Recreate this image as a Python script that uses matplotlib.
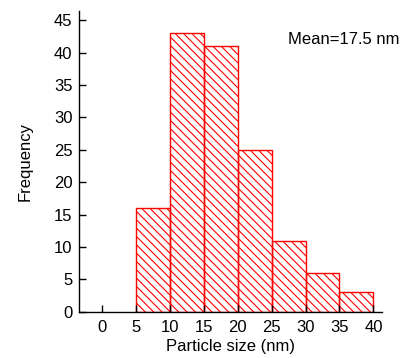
import matplotlib
matplotlib.use('Agg')
import matplotlib.pyplot as plt
import numpy as np

# histogram data
bin_edges = [5, 10, 15, 20, 25, 30, 35, 40]
counts = [16, 43, 41, 25, 11, 6, 3]
x_ticks = [0, 5, 10, 15, 20, 25, 30, 35, 40]
y_ticks = [0, 5, 10, 15, 20, 25, 30, 35, 40, 45]
mean_label = 'Mean=17.5 nm'

plt.rcParams['font.family'] = ['Liberation Sans', 'DejaVu Sans']
plt.rcParams['hatch.linewidth'] = 0.8

fig = plt.figure(figsize=(4.09, 3.58), dpi=100)
ax = fig.add_axes([0.194, 0.129, 0.739, 0.840])

left = np.array(bin_edges[:-1])
widths = np.diff(bin_edges)
ax.bar(left, counts, width=widths, align='edge', color='none',
       edgecolor='red', linewidth=1.0, hatch='\\\\\\\\')

ax.set_xlim(-3.3, 41.2)
ax.set_ylim(0, 46.4)
ax.set_xticks(x_ticks)
ax.set_yticks(y_ticks)
ax.tick_params(direction='in', length=5, width=1, labelsize=12, pad=5)
ax.tick_params(axis='x', pad=6)

ax.spines['top'].set_visible(False)
ax.spines['right'].set_visible(False)
ax.spines['left'].set_linewidth(1)
ax.spines['bottom'].set_linewidth(1)

ax.set_xlabel('Particle size (nm)', fontsize=12, labelpad=3)
ax.set_ylabel('Frequency', fontsize=12, labelpad=15)

ax.text(1.06, 0.905, mean_label, transform=ax.transAxes, ha='right',
        va='center', fontsize=12)

fig.savefig('out.png', dpi=100)
